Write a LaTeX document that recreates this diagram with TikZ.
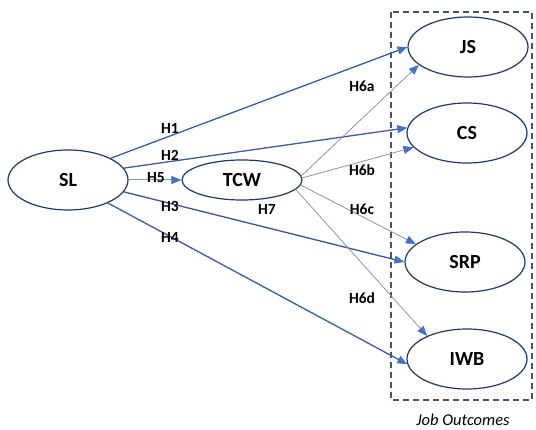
\documentclass[tikz,border=0pt]{standalone}
\usepackage{fontspec}
\setmainfont{Carlito}
\usetikzlibrary{arrows.meta,shapes.geometric}
\definecolor{navy}{HTML}{1F3864}
\definecolor{boxgray}{HTML}{44546A}
\definecolor{pathblue}{HTML}{3B5C9C}
\definecolor{tipblue}{HTML}{4472C4}
\definecolor{thin}{HTML}{8A94A6}
\tikzset{
  var/.style={ellipse, draw=navy, line width=1.2pt, minimum width=120pt, minimum height=60pt, inner sep=0pt, font=\fontsize{20}{22}\selectfont\bfseries},
  mainarr/.style={draw=pathblue, line width=1.3pt, -{Triangle[length=10pt,width=8pt,fill=tipblue,color=tipblue]}},
  medarr/.style={draw=thin, line width=0.8pt, -{Triangle[length=10pt,width=8pt,fill=tipblue,color=tipblue]}},
  hlab/.style={font=\fontsize{15.5}{17}\selectfont\bfseries, inner sep=1pt}
}
\begin{document}
\begin{tikzpicture}[x=1pt,y=-1pt]
\useasboundingbox (0,0) rectangle (536,430);
\draw[boxgray, line width=1.3pt, dash pattern=on 6pt off 4pt] (391,12) rectangle (532,400);
\node[var] (SL) at (68,180) {SL};
\node[var, minimum height=40pt] (TCW) at (242,180) {TCW};
\node[var] (JS) at (468,47) {JS};
\node[var] (CS) at (467,133) {CS};
\node[var] (SRP) at (465,262) {SRP};
\node[var] (IWB) at (467,359) {IWB};
\node[font=\fontsize{16.5}{18}\selectfont\itshape] (JO) at (463,420) {Job Outcomes};
% main paths
\draw[mainarr] (SL.27) -- (JS.west);
\draw[mainarr] (SL.12) -- (CS.175);
\draw[medarr, line width=1pt] (SL.east) -- (TCW.west);
\draw[mainarr] (SL.-12) -- (SRP.west);
\draw[mainarr] (SL.-30) -- (IWB.185);
% mediation paths
\draw[medarr] (TCW.4) -- (JS.200);
\draw[medarr] (TCW.2) -- (CS.195);
\draw[medarr] (TCW.-5) -- (SRP.160);
\draw[medarr] (TCW.-10) -- (IWB.150);
% labels
\node[hlab] (H1) at (170,128) {H1};
\node[hlab] (H2) at (170,155) {H2};
\node[hlab] (H5) at (156,178) {H5};
\node[hlab] (H3) at (170,206) {H3};
\node[hlab] (H4) at (170,237) {H4};
\node[hlab] (H7) at (267,209) {H7};
\node[hlab] (H6a) at (362,86) {H6a};
\node[hlab] (H6b) at (362,170) {H6b};
\node[hlab] (H6c) at (362,209) {H6c};
\node[hlab] (H6d) at (362,298) {H6d};
\end{tikzpicture}
\end{document}
